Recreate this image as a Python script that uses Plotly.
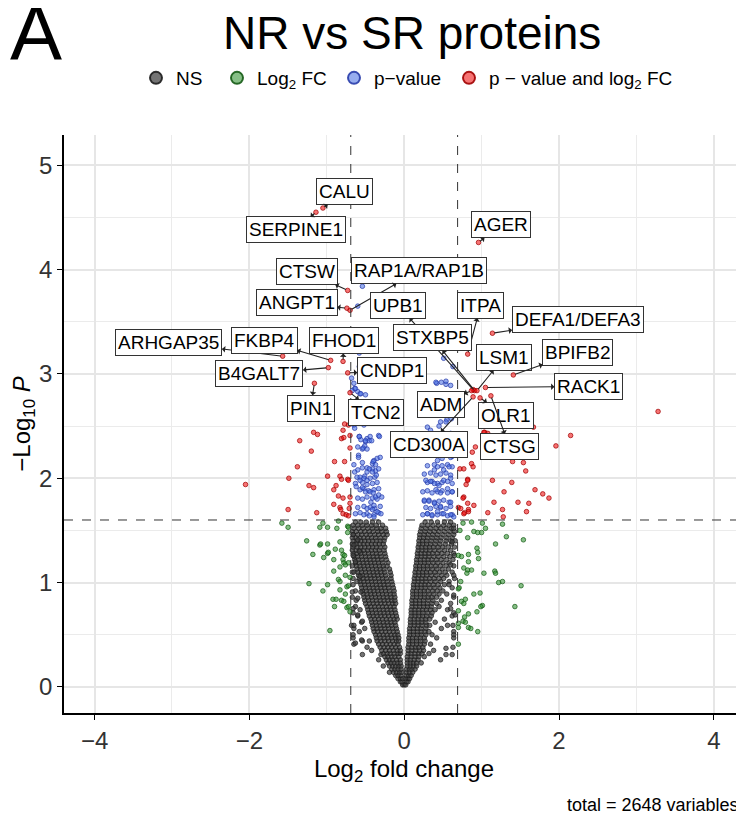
import plotly.graph_objects as go

# ---------------- data ----------------
# labelled proteins (all in the "p-value and log2 FC" class)
label_names = ["CALU", "SERPINE1", "AGER", "CTSW", "RAP1A/RAP1B", "ANGPT1", "UPB1",
               "ITPA", "DEFA1/DEFA3", "ARHGAP35", "FKBP4", "FHOD1", "STXBP5", "LSM1",
               "BPIFB2", "B4GALT7", "CNDP1", "RACK1", "PIN1", "TCN2", "ADM", "OLR1",
               "CD300A", "CTSG"]
label_x = [-1.05, -1.14, 0.96, -0.73, -0.70, -0.74, 0.89,
           0.82, 1.14, -1.57, -0.95, -0.79, 0.91, 0.94,
           1.41, -0.98, -0.73, 1.05, -1.16, -0.70, 0.87, 0.98,
           0.89, 1.12]
label_y = [4.59, 4.55, 4.26, 3.80, 3.61, 3.63, 2.85,
           3.19, 3.39, 3.17, 3.13, 3.12, 2.84, 2.84,
           2.99, 3.06, 3.01, 2.87, 2.91, 2.82, 2.84, 2.77,
           2.78, 2.79]

# other significant points: p-value and log2 FC (red)
red_x = [-1.17, -1.12, -1.35, -1.20, -0.79, -0.81, -0.78, -0.70, -0.72, -0.90, -0.77,
         -1.38, -1.49, -2.05, -0.99, -0.83, -0.81, -0.73, -0.88, -1.23, -1.17, -0.91,
         -0.85, -0.79, -0.91, -0.83, -0.82, -0.70, -0.71, -1.50, -1.13, -0.79, -0.75,
         -0.72, -0.70, -0.70, -0.77, -0.72,
         3.28, 2.15, 1.96, 1.67, 1.04, 1.08, 0.92, 0.88, 1.40, 1.54, 1.57, 0.87, 0.89,
         0.72, 0.77, 1.14, 1.39, 0.82, 0.80, 1.29, 1.69, 1.79, 1.87, 0.77, 0.76, 1.16,
         1.47, 1.61, 0.90, 0.70, 0.83, 0.78, 0.77, 1.27, 1.08, 1.58, 1.28, 0.82, 0.73,
         0.83, 0.82, 1.03]
red_y = [2.44, 2.42, 2.36, 2.26, 2.46, 2.38, 2.39, 2.29, 2.51, 2.16, 2.16,
         2.11, 2.00, 1.94, 2.02, 2.02, 1.99, 1.99, 1.93, 1.93, 1.91, 1.89,
         1.83, 1.81, 1.75, 1.72, 1.70, 1.76, 1.71, 1.70, 1.67, 1.66, 1.65,
         1.64, 1.82, 2.41, 2.52, 1.98,
         2.64, 2.41, 2.31, 2.49, 2.44, 2.43, 2.30, 2.25, 2.16, 2.15, 2.07, 2.14, 2.11,
         2.09, 2.09, 1.98, 1.96, 1.99, 1.94, 1.87, 1.89, 1.85, 1.81, 1.82, 1.81, 1.77,
         1.77, 1.76, 1.74, 1.72, 1.70, 1.67, 1.66, 1.70, 1.67, 1.68, 1.63, 1.76, 1.71,
         1.68, 1.98, 2.44]

# p-value only (blue)
blue_x = [-0.68, -0.65, -0.64, -0.60, -0.57, -0.65, -0.52, -0.58, -0.56, -0.48, -0.44,
          -0.50, -0.33, -0.60, -0.54, -0.51, -0.35, -0.31, -0.39, -0.41, -0.59, -0.65,
          -0.60, -0.54, -0.48, -0.41, -0.37, -0.57, -0.51, -0.44, -0.38,
          -0.63, -0.54, -0.48, -0.41, -0.35, -0.57, -0.52, -0.46, -0.39, -0.33,
          -0.60, -0.54, -0.48, -0.41, -0.35, -0.29, -0.60, -0.52, -0.44, -0.38, -0.31,
          -0.63, -0.57, -0.48, -0.39, -0.33,
          -0.64, -0.58, -0.50, -0.45, -0.42, -0.53, -0.48, -0.32, -0.59, -0.54, -0.40,
          -0.37, -0.33, -0.48, -0.45, -0.41, -0.36, -0.64, -0.61, -0.57, -0.52, -0.48,
          -0.62, -0.54, -0.50, -0.44, -0.40, -0.37, -0.33, -0.43, -0.39, -0.48, -0.41,
          -0.35, -0.30, -0.52, -0.45, -0.39,
          -0.54, -0.60, -0.58, -0.58, -0.67, -0.63, -0.56, -0.50,
          0.42, 0.48, 0.54, 0.60, 0.30, 0.34, 0.61, 0.51, 0.63,
          0.41, 0.54, 0.47, 0.55, 0.60, 0.51, 0.45, 0.48, 0.56, 0.62,
          0.30, 0.39, 0.43, 0.49, 0.56, 0.62, 0.26, 0.34, 0.41, 0.47, 0.54, 0.60,
          0.30, 0.36, 0.43, 0.49, 0.56, 0.62, 0.24, 0.30, 0.36, 0.43, 0.49, 0.56, 0.62,
          0.26, 0.32, 0.39, 0.45, 0.51, 0.58, 0.28, 0.34, 0.41, 0.47, 0.54, 0.60,
          0.24, 0.30, 0.36, 0.43, 0.49, 0.56, 0.62, 0.64,
          0.45, 0.54, 0.43, 0.49, 0.60, 0.39, 0.51, 0.58, 0.28, 0.34, 0.39, 0.45, 0.51,
          0.60, 0.41, 0.47, 0.56, 0.62, 0.26, 0.32, 0.39, 0.47, 0.60, 0.30, 0.36, 0.43,
          0.51, 0.60]
blue_y = [2.96, 2.91, 2.86, 2.83, 2.81, 2.51, 2.51, 2.40, 2.37, 2.38, 2.40,
          2.35, 2.41, 2.30, 2.28, 2.31, 2.19, 2.20, 2.17, 2.14, 2.22, 2.13,
          2.08, 2.10, 2.06, 2.09, 2.07, 2.01, 2.02, 2.00, 2.01,
          1.95, 1.96, 1.94, 1.95, 1.96, 1.89, 1.90, 1.88, 1.89, 1.90,
          1.81, 1.80, 1.82, 1.81, 1.80, 1.82, 1.72, 1.73, 1.72, 1.71, 1.73,
          1.66, 1.67, 1.66, 1.65, 1.67,
          2.48, 2.40, 2.36, 2.36, 2.36, 2.29, 2.28, 2.40, 2.20, 2.15, 2.16,
          2.13, 2.09, 2.10, 2.09, 2.06, 2.03, 2.06, 2.01, 1.98, 2.00, 1.98,
          1.92, 1.91, 1.87, 1.87, 1.86, 1.82, 1.84, 1.77, 1.74, 1.71, 1.70,
          1.68, 1.66, 1.65, 1.64, 1.63,
          3.84, 3.65, 3.20, 3.07, 2.84, 2.86, 2.81, 2.80,
          2.91, 2.92, 2.90, 2.89, 2.49, 2.46, 2.57, 3.15, 3.07,
          2.92, 2.93, 2.54, 2.56, 2.43, 2.40, 2.30, 2.24, 2.25, 2.21,
          2.12, 2.13, 2.11, 2.12, 2.13, 2.11, 2.04, 2.05, 2.03, 2.04, 2.05, 2.03,
          1.96, 1.97, 1.95, 1.96, 1.97, 1.95, 1.87, 1.88, 1.86, 1.87, 1.88, 1.86, 1.87,
          1.78, 1.79, 1.77, 1.78, 1.79, 1.77, 1.72, 1.71, 1.73, 1.72, 1.71, 1.73,
          1.65, 1.66, 1.64, 1.65, 1.66, 1.64, 1.65, 1.63,
          2.50, 2.54, 2.17, 2.19, 2.20, 2.08, 2.08, 2.11, 1.98, 1.97, 1.95, 1.93, 1.98,
          2.00, 1.89, 1.86, 1.90, 1.87, 1.79, 1.78, 1.76, 1.73, 1.77, 1.66, 1.65, 1.68,
          1.66, 1.65]

# log2 FC only (green)
green_x = [-1.58, -1.50, -1.09, -1.05, -0.99, -0.87, -0.85, -0.73, -0.72,
           -1.26, -1.09, -1.08, -0.99, -0.83,
           -1.18, -0.99, -0.98, -0.89, -0.81, -0.79, -0.77, -0.73,
           -1.04, -0.91, -0.79, -0.78, -0.83, -0.76, -0.72,
           -0.91, -0.76, -0.85, -0.83, -0.70,
           -1.23, -0.99, -1.05, -0.83, -0.74, -0.72,
           -0.92, -0.88, -0.81, -0.78, -0.76, -0.74, -0.72, -0.70, -0.90, -0.96,
           0.76, 0.87, 1.01, 1.27, 0.72, 0.90, 0.95, 1.00, 1.05,
           0.82, 1.32, 1.54, 1.18,
           0.94, 0.95, 0.83, 0.70, 0.74, 0.96, 0.83,
           0.77, 0.82, 0.87, 0.81, 1.03, 1.17, 1.18,
           0.73, 1.22, 1.27, 1.51, 0.70, 0.71,
           0.90, 0.98, 0.79, 0.74, 0.77, 1.01, 0.99, 1.43,
           0.70, 0.83, 0.78, 0.94, 0.70, 0.76, 0.79, 0.70, 0.83, 0.86, 0.95, 0.70]
green_y = [1.57, 1.53, 1.53, 1.57, 1.53, 1.52, 1.59, 1.54, 1.53,
           1.40, 1.36, 1.37, 1.37, 1.39,
           1.27, 1.28, 1.29, 1.32, 1.31, 1.27, 1.26, 1.48,
           1.24, 1.22, 1.22, 1.19, 1.15, 1.17, 1.19,
           1.11, 1.07, 1.03, 1.01, 1.05,
           0.99, 0.98, 0.92, 0.93, 0.96, 0.97,
           0.84, 0.84, 0.83, 0.82, 0.89, 0.76, 0.77, 0.72, 0.77, 0.54,
           1.57, 1.58, 1.57, 1.56, 1.50, 1.49, 1.48, 1.48, 1.52,
           1.43, 1.44, 1.41, 1.37,
           1.33, 1.29, 1.27, 1.26, 1.25, 1.23, 1.20,
           1.14, 1.12, 1.12, 1.09, 1.09, 1.11, 1.09,
           1.01, 1.00, 1.01, 0.97, 0.94, 0.95,
           0.89, 0.90, 0.84, 0.82, 0.80, 0.78, 0.77, 0.77,
           0.73, 0.70, 0.67, 0.72, 0.61, 0.63, 0.62, 0.57, 0.57, 0.56, 0.53, 0.41]

# not significant (grey), read row by row from the dense V-shaped cloud
ns_row_y = [0.02, 0.05, 0.08, 0.11, 0.14, 0.17, 0.20, 0.23, 0.26, 0.29, 0.31, 0.32,
            0.35, 0.38, 0.41, 0.44, 0.47, 0.50, 0.53, 0.56, 0.59, 0.62, 0.65, 0.68,
            0.71, 0.74, 0.77, 0.80, 0.83, 0.86, 0.89, 0.92, 0.95, 0.98, 1.01, 1.04,
            1.07, 1.10, 1.13, 1.16, 1.19, 1.22, 1.25, 1.28, 1.31, 1.34, 1.37, 1.40,
            1.43, 1.46, 1.49, 1.52, 1.55, 1.58]
ns_row_x = [
    [-0.02, 0.00, 0.02],
    [-0.05, -0.03, 0.03, 0.05],
    [-0.08, -0.05, -0.02, 0.02, 0.05, 0.07],
    [-0.11, -0.08, -0.04, 0.03, 0.06, 0.09],
    [-0.14, -0.10, -0.06, -0.03, 0.03, 0.07, 0.11, -0.19],
    [-0.16, -0.12, -0.08, -0.04, 0.03, 0.07, 0.10, 0.14],
    [-0.19, -0.15, -0.11, -0.07, -0.04, 0.04, 0.08, 0.12, 0.16, -0.27],
    [-0.21, -0.17, -0.13, -0.09, -0.05, 0.04, 0.08, 0.12, 0.16, 0.22],
    [-0.23, -0.19, -0.15, -0.10, -0.05, 0.04, 0.08, 0.13, 0.18, 0.47, -0.33],
    [-0.25, -0.21, -0.16, -0.12, -0.07, 0.04, 0.09, 0.14, 0.19, 0.26],
    [-0.54, -0.30, 0.54],
    [-0.27, -0.22, -0.18, -0.13, -0.08, -0.05, 0.05, 0.09, 0.14, 0.19, 0.23, 0.32],
    [-0.29, -0.24, -0.19, -0.14, -0.09, -0.05, 0.05, 0.10, 0.15, 0.20, 0.25, -0.42, 0.38],
    [-0.31, -0.26, -0.21, -0.16, -0.11, -0.06, 0.05, 0.10, 0.15, 0.19, 0.24, 0.63, -0.48],
    [-0.33, -0.28, -0.23, -0.18, -0.13, -0.08, 0.06, 0.11, 0.16, 0.21, 0.26, 0.34, -0.65],
    [-0.35, -0.30, -0.25, -0.20, -0.15, -0.10, -0.07, 0.06, 0.11, 0.16, 0.21, 0.27, -0.45, -0.54],
    [-0.36, -0.31, -0.26, -0.21, -0.16, -0.11, -0.07, 0.06, 0.11, 0.16, 0.21, 0.26, 0.64, -0.66, 0.42],
    [-0.37, -0.32, -0.27, -0.22, -0.17, -0.12, -0.08, 0.07, 0.12, 0.17, 0.22, 0.28, 0.36],
    [-0.39, -0.34, -0.29, -0.24, -0.19, -0.14, -0.09, 0.07, 0.12, 0.17, 0.22, 0.27, 0.32, 0.64, -0.58],
    [-0.40, -0.35, -0.30, -0.25, -0.20, -0.15, -0.10, 0.07, 0.12, 0.17, 0.22, 0.28, -0.65, -0.51, 0.48],
    [-0.41, -0.36, -0.31, -0.26, -0.21, -0.16, -0.11, 0.08, 0.13, 0.18, 0.23, 0.29, 0.33, 0.63, -0.68],
    [-0.42, -0.37, -0.32, -0.27, -0.22, -0.17, -0.12, 0.08, 0.13, 0.18, 0.23, 0.28, 0.40, -0.55],
    [-0.43, -0.38, -0.33, -0.28, -0.23, -0.18, -0.13, -0.09, 0.08, 0.13, 0.18, 0.23, 0.28, 0.33, 0.52],
    [-0.45, -0.40, -0.35, -0.30, -0.25, -0.20, -0.15, -0.10, 0.09, 0.14, 0.19, 0.24, 0.29, 0.35, -0.60, 0.62],
    [-0.46, -0.41, -0.36, -0.31, -0.26, -0.21, -0.16, -0.11, 0.09, 0.14, 0.19, 0.24, 0.30, 0.36, 0.64, -0.66],
    [-0.47, -0.42, -0.37, -0.32, -0.27, -0.22, -0.17, -0.12, 0.09, 0.14, 0.19, 0.24, 0.29, 0.34, 0.40, -0.57, 0.56],
    [-0.48, -0.43, -0.38, -0.33, -0.28, -0.23, -0.18, -0.13, 0.10, 0.15, 0.20, 0.25, 0.30, 0.35, 0.45, -0.63],
    [-0.50, -0.45, -0.40, -0.35, -0.30, -0.25, -0.20, -0.15, -0.11, 0.10, 0.15, 0.20, 0.25, 0.30, 0.36, 0.42, 0.60],
    [-0.51, -0.46, -0.41, -0.36, -0.31, -0.26, -0.21, -0.16, -0.12, 0.10, 0.15, 0.20, 0.25, 0.31, 0.37, 0.48, -0.62],
    [-0.52, -0.47, -0.42, -0.37, -0.32, -0.27, -0.22, -0.17, -0.12, 0.11, 0.16, 0.21, 0.26, 0.31, 0.36, 0.42, -0.67, 0.64],
    [-0.53, -0.48, -0.43, -0.38, -0.33, -0.28, -0.23, -0.18, -0.13, 0.11, 0.16, 0.21, 0.26, 0.32, 0.38, 0.45, 0.55],
    [-0.54, -0.49, -0.44, -0.39, -0.34, -0.29, -0.24, -0.19, -0.13, 0.11, 0.16, 0.21, 0.26, 0.31, 0.37, 0.43, 0.50, -0.63],
    [-0.55, -0.50, -0.45, -0.40, -0.35, -0.30, -0.25, -0.20, -0.14, 0.12, 0.17, 0.22, 0.27, 0.33, 0.39, 0.46, 0.62],
    [-0.56, -0.51, -0.46, -0.41, -0.36, -0.31, -0.26, -0.21, -0.15, 0.12, 0.17, 0.22, 0.27, 0.32, 0.38, 0.44, 0.52, -0.66],
    [-0.57, -0.52, -0.47, -0.42, -0.37, -0.32, -0.27, -0.22, -0.16, 0.13, 0.18, 0.23, 0.28, 0.34, 0.40, 0.47, 0.58],
    [-0.58, -0.53, -0.48, -0.43, -0.38, -0.33, -0.28, -0.23, -0.17, 0.13, 0.18, 0.23, 0.28, 0.33, 0.39, 0.45, 0.51, -0.66, 0.65],
    [-0.59, -0.54, -0.49, -0.44, -0.39, -0.34, -0.29, -0.24, -0.17, 0.14, 0.19, 0.24, 0.29, 0.35, 0.41, 0.48, 0.55],
    [-0.60, -0.55, -0.50, -0.45, -0.40, -0.35, -0.30, -0.25, -0.18, 0.14, 0.19, 0.24, 0.29, 0.34, 0.40, 0.46, 0.53, 0.62, -0.67],
    [-0.61, -0.56, -0.51, -0.46, -0.41, -0.36, -0.31, -0.26, -0.19, 0.15, 0.20, 0.25, 0.30, 0.36, 0.42, 0.49, 0.57],
    [-0.62, -0.57, -0.52, -0.47, -0.42, -0.37, -0.32, -0.27, -0.22, 0.15, 0.20, 0.25, 0.30, 0.35, 0.41, 0.47, 0.54, 0.64, -0.67],
    [-0.63, -0.58, -0.53, -0.48, -0.43, -0.38, -0.33, -0.28, -0.21, 0.16, 0.21, 0.26, 0.31, 0.37, 0.43, 0.50, 0.58],
    [-0.64, -0.59, -0.54, -0.49, -0.44, -0.39, -0.34, -0.29, -0.23, 0.16, 0.21, 0.26, 0.31, 0.36, 0.42, 0.48, 0.55, 0.63],
    [-0.65, -0.60, -0.55, -0.50, -0.45, -0.40, -0.35, -0.30, -0.24, 0.17, 0.22, 0.27, 0.32, 0.38, 0.44, 0.51, 0.59],
    [-0.66, -0.61, -0.56, -0.51, -0.46, -0.41, -0.36, -0.31, -0.25, 0.17, 0.22, 0.27, 0.32, 0.37, 0.43, 0.49, 0.56, 0.64],
    [-0.67, -0.62, -0.57, -0.52, -0.47, -0.42, -0.37, -0.32, -0.26, 0.18, 0.23, 0.28, 0.33, 0.39, 0.45, 0.52, 0.60],
    [-0.66, -0.61, -0.56, -0.51, -0.46, -0.41, -0.36, -0.31, -0.25, 0.18, 0.23, 0.28, 0.33, 0.38, 0.44, 0.50, 0.57, 0.65],
    [-0.67, -0.62, -0.57, -0.52, -0.47, -0.42, -0.37, -0.32, -0.27, 0.19, 0.24, 0.29, 0.34, 0.40, 0.46, 0.53, 0.61],
    [-0.66, -0.61, -0.56, -0.51, -0.46, -0.41, -0.36, -0.31, -0.26, 0.19, 0.24, 0.29, 0.35, 0.41, 0.47, 0.54, 0.60, 0.66],
    [-0.67, -0.62, -0.57, -0.52, -0.47, -0.42, -0.37, -0.31, -0.25, 0.20, 0.25, 0.30, 0.36, 0.42, 0.48, 0.55, 0.62],
    [-0.66, -0.60, -0.55, -0.49, -0.44, -0.38, -0.33, -0.27, -0.22, 0.20, 0.26, 0.31, 0.37, 0.43, 0.50, 0.57, 0.64],
    [-0.67, -0.62, -0.56, -0.51, -0.45, -0.40, -0.34, -0.29, -0.23, 0.21, 0.27, 0.33, 0.39, 0.45, 0.52, 0.59, 0.65],
    [-0.65, -0.59, -0.53, -0.47, -0.41, -0.35, -0.30, -0.24, 0.22, 0.28, 0.34, 0.41, 0.47, 0.54, 0.61],
    [-0.66, -0.60, -0.54, -0.48, -0.42, -0.36, -0.28, 0.23, 0.30, 0.37, 0.44, 0.51, 0.58, 0.64],
    [-0.63, -0.56, -0.49, -0.41, -0.33, 0.27, 0.35, 0.43, 0.52, 0.60],
]
# scattered grey points along the outer edges of the V
ns_extra_x = [-0.66, -0.65, -0.60, -0.66, -0.63, -0.58, -0.65, -0.61, -0.57, -0.67,
              -0.60, -0.56, -0.66, -0.60, -0.65, -0.54, -0.66, -0.55, -0.63,
              0.64, 0.62, 0.65, 0.60, 0.64, 0.58, 0.64, 0.60, 0.66, 0.56, 0.64, 0.54, 0.62]
ns_extra_y = [1.46, 1.36, 1.41, 1.26, 1.20, 1.30, 1.10, 1.01, 1.06, 0.91,
              0.85, 0.91, 0.75, 0.69, 0.59, 0.63, 0.50, 0.45, 0.42,
              1.52, 1.39, 1.26, 1.17, 1.07, 0.98, 0.88, 0.75, 0.69, 0.59, 0.50, 0.37, 0.31]

FC_CUTOFF = 0.69
P_CUTOFF = 1.6
TOTAL = 2648

# ---------------- layout helpers (positions / styles) ----------------
# The page body has an 8 px margin, so the figure is 8 px smaller than the window.
# Paper coordinates below are computed from target window pixels of the plot panel
# (left 64, right 744, top 135, bottom 713).
PL, PW, PB, PH = 64, 680, 713, 578


def px(xp):
    return (xp - PL) / PW


def py(yp):
    return (PB - yp) / PH


# label-box centres in data units, per label (ggrepel placement)
LABEL_BOX = {
    "CALU": (-0.77, 4.75), "SERPINE1": (-1.40, 4.38), "AGER": (1.25, 4.43),
    "CTSW": (-1.25, 3.98), "RAP1A/RAP1B": (0.19, 3.99), "ANGPT1": (-1.39, 3.68),
    "UPB1": (-0.08, 3.66), "ITPA": (0.99, 3.66), "DEFA1/DEFA3": (2.24, 3.52),
    "ARHGAP35": (-3.04, 3.30), "FKBP4": (-1.81, 3.32), "FHOD1": (-0.78, 3.32),
    "STXBP5": (0.36, 3.35), "LSM1": (1.29, 3.16), "BPIFB2": (2.24, 3.21),
    "B4GALT7": (-1.87, 3.00), "CNDP1": (-0.16, 3.03), "RACK1": (2.38, 2.88),
    "PIN1": (-1.21, 2.67), "TCN2": (-0.37, 2.63), "ADM": (0.47, 2.71),
    "OLR1": (1.31, 2.60), "CD300A": (0.32, 2.32), "CTSG": (1.36, 2.30),
}
# legend symbol centres (window px) for each class
LEGEND_SYMBOL_X = [157, 238, 355, 470]

FONT = "Liberation Sans, Arial, Helvetica, sans-serif"


def style(rgb, dark, alpha=0.55):
    return dict(size=4.6, color="rgba(%d,%d,%d,%.2f)" % (rgb + (alpha,)),
                line=dict(width=0.8, color="rgba(%d,%d,%d,0.9)" % dark))


ns_x, ns_y = [], []
for yv, xs in zip(ns_row_y, ns_row_x):
    for xv in xs:
        ns_x.append(xv)
        ns_y.append(yv)
ns_x += ns_extra_x
ns_y += ns_extra_y

fig = go.Figure()
fig.add_trace(go.Scatter(x=ns_x, y=ns_y, mode="markers", name="NS", legend="legend",
                         marker=style((62, 62, 62), (28, 28, 28), 0.72)))
fig.add_trace(go.Scatter(x=green_x, y=green_y, mode="markers", name="Log<sub>2</sub> FC",
                         legend="legend2", marker=style((34, 139, 34), (20, 90, 20))))
fig.add_trace(go.Scatter(x=blue_x, y=blue_y, mode="markers", name="p\u2212value",
                         legend="legend3", marker=style((65, 105, 225), (40, 60, 170))))
fig.add_trace(go.Scatter(x=red_x + label_x, y=red_y + label_y, mode="markers",
                         name="p \u2212 value and log<sub>2</sub> FC", legend="legend4",
                         marker=style((238, 0, 0), (160, 0, 0))))

# threshold lines
for xv in (-FC_CUTOFF, FC_CUTOFF):
    fig.add_shape(type="line", xref="x", yref="paper", x0=xv, x1=xv, y0=0, y1=1,
                  line=dict(color="#333333", width=1, dash="dash"), layer="above")
fig.add_shape(type="line", xref="paper", yref="y", x0=0, x1=1, y0=P_CUTOFF, y1=P_CUTOFF,
              line=dict(color="#333333", width=1, dash="dash"), layer="above")

annotations = []
for name, lx, ly in zip(label_names, label_x, label_y):
    bx, by = LABEL_BOX[name]
    annotations.append(dict(
        x=lx, y=ly, xref="x", yref="y", ax=bx, ay=by, axref="x", ayref="y",
        text=name, showarrow=True, arrowside="start", arrowhead=2, arrowsize=0.9,
        arrowwidth=1.1, arrowcolor="#222222", standoff=2,
        font=dict(family=FONT, size=19, color="black"),
        bgcolor="white", bordercolor="#333333", borderwidth=1, borderpad=2))

annotations += [
    dict(text="A", xref="paper", yref="paper", x=px(8), y=py(33),
         xanchor="left", yanchor="middle", showarrow=False,
         font=dict(family=FONT, size=78, color="black")),
    dict(text="NR vs SR proteins", xref="paper", yref="paper", x=px(412),
         y=py(33), xanchor="center", yanchor="middle", showarrow=False,
         font=dict(family=FONT, size=46, color="black")),
    dict(text="total = %d variables" % TOTAL, xref="paper", yref="paper",
         x=px(741), y=py(805), xanchor="right", yanchor="middle",
         showarrow=False, font=dict(family=FONT, size=18, color="black")),
]

legend_common = dict(orientation="h", y=py(78), yanchor="middle", xanchor="left",
                     itemsizing="constant", bgcolor="rgba(0,0,0,0)",
                     font=dict(family=FONT, size=19, color="black"))
legends = {}
for i, key in enumerate(["legend", "legend2", "legend3", "legend4"]):
    legends[key] = dict(legend_common, x=px(LEGEND_SYMBOL_X[i] - 21))

axis_common = dict(
    showgrid=True, gridcolor="#e6e6e6", gridwidth=1.7,
    zeroline=False, showline=True, linecolor="black", linewidth=1.6,
    ticks="outside", ticklen=5, tickwidth=1.4, tickcolor="black",
    tickfont=dict(family=FONT, size=24, color="#333333"), automargin=False)

fig.update_layout(
    width=736, height=808,
    margin=dict(l=PL - 8, r=0, t=135 - 8, b=808 - (PB - 8), autoexpand=False),
    plot_bgcolor="white", paper_bgcolor="white",
    font=dict(family=FONT, color="black"),
    showlegend=True,
    annotations=annotations,
    xaxis=dict(axis_common, range=[-4.395, 4.39], tickmode="array",
               tickvals=[-4, -2, 0, 2, 4],
               ticktext=["\u22124", "\u22122", "0", "2", "4"],
               minor=dict(dtick=1, tick0=0, showgrid=True, gridcolor="#ebebeb", gridwidth=1.2),
               title=dict(text="Log<sub>2</sub> fold change", standoff=8,
                          font=dict(family=FONT, size=24, color="black"))),
    yaxis=dict(axis_common, range=[-0.25, 5.29], tickmode="array",
               tickvals=[0, 1, 2, 3, 4, 5],
               minor=dict(dtick=0.5, tick0=0, showgrid=True, gridcolor="#ebebeb", gridwidth=1.2),
               title=dict(text="\u2212Log<sub>10</sub> <i>P</i>", standoff=6,
                          font=dict(family=FONT, size=24, color="black"))),
    **legends,
)

fig.write_html("out.html")
